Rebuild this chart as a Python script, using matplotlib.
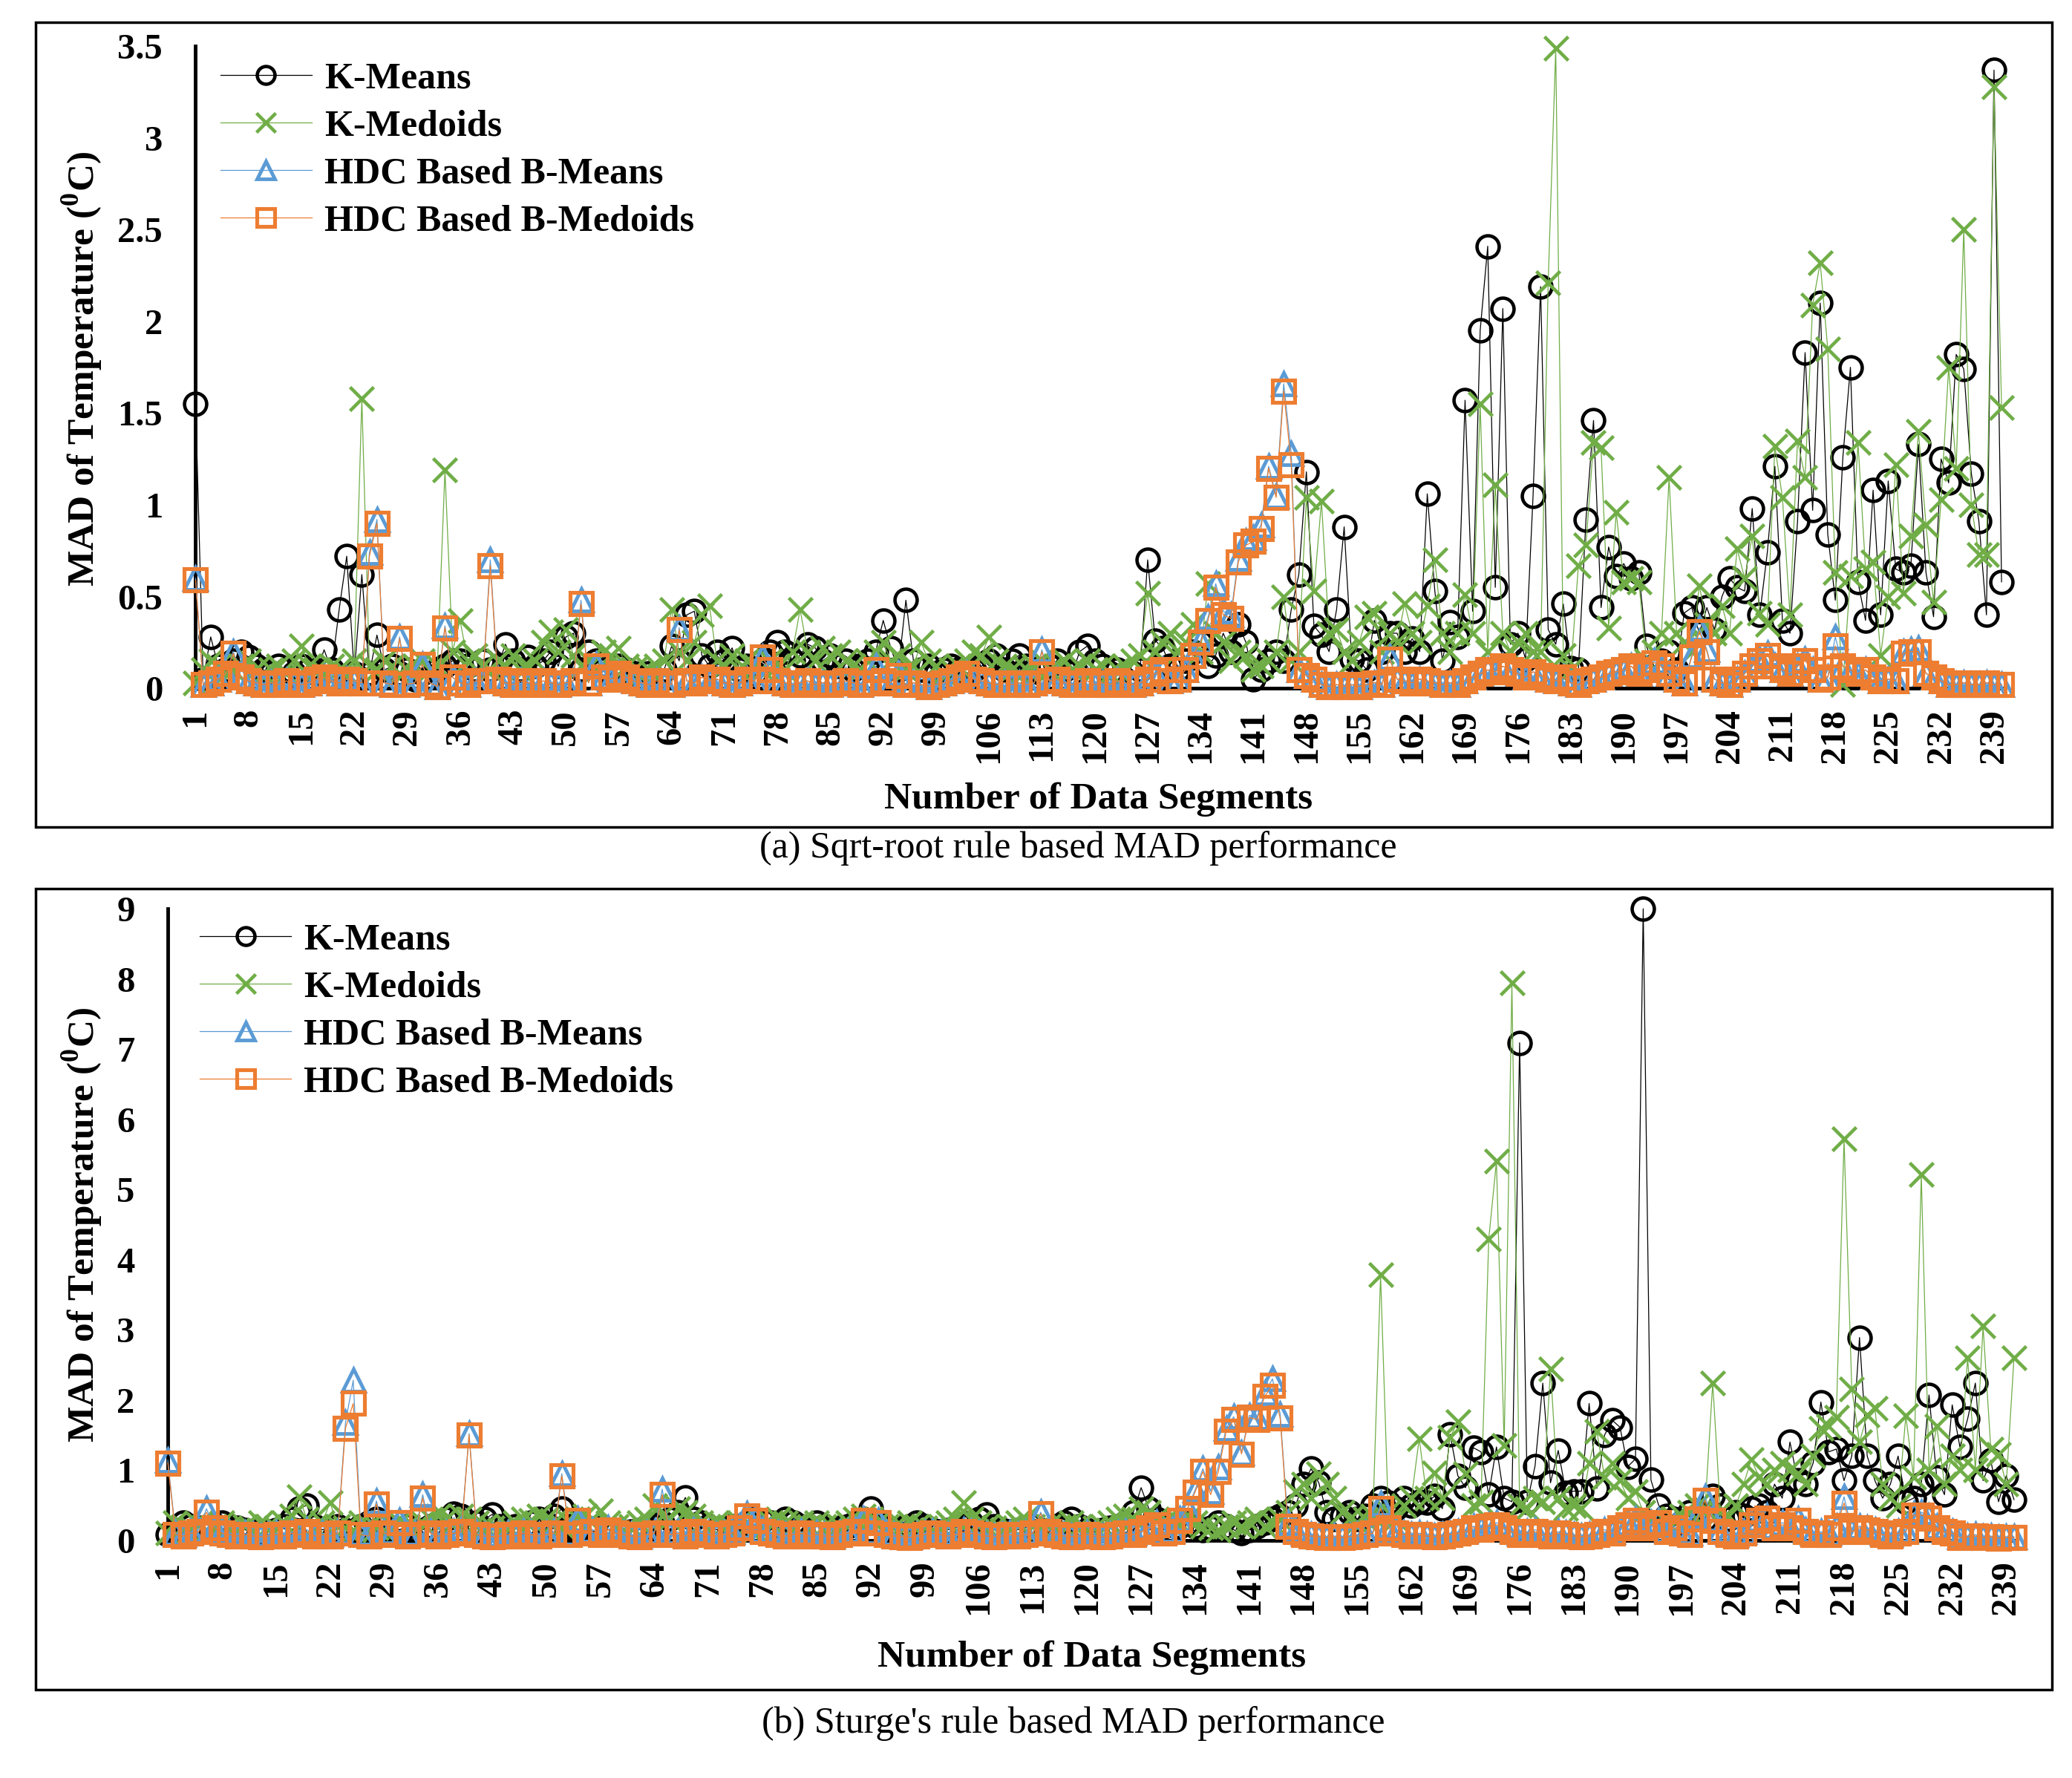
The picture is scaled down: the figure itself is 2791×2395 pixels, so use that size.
import matplotlib
matplotlib.use('Agg')
import matplotlib.pyplot as plt
from matplotlib.patches import Rectangle

plt.rcParams['font.family'] = ['Liberation Serif', 'DejaVu Serif']
plt.rcParams['mathtext.fontset'] = 'custom'
plt.rcParams['mathtext.rm'] = 'Liberation Serif'
plt.rcParams['mathtext.bf'] = 'Liberation Serif:bold'

segments = list(range(1, 241))
tick_positions = list(range(1, 240, 7))
series_names = ['K-Means', 'K-Medoids', 'HDC Based B-Means', 'HDC Based B-Medoids']

# ---------------- (a) Sqrt-root rule ----------------
kmeans_a = [
    1.55, 0.05, 0.28, 0.12, 0.10, 0.15, 0.20, 0.17, 0.12, 0.10,
    0.08, 0.12, 0.10, 0.08, 0.12, 0.10, 0.08, 0.21, 0.10, 0.43,
    0.72, 0.08, 0.62, 0.08, 0.29, 0.10, 0.12, 0.08, 0.10, 0.05,
    0.08, 0.06, 0.10, 0.12, 0.15, 0.15, 0.12, 0.10, 0.15, 0.10,
    0.12, 0.24, 0.15, 0.10, 0.17, 0.12, 0.15, 0.20, 0.12, 0.28,
    0.30, 0.10, 0.20, 0.15, 0.10, 0.08, 0.12, 0.10, 0.08, 0.05,
    0.08, 0.05, 0.10, 0.23, 0.15, 0.40, 0.42, 0.18, 0.12, 0.20,
    0.15, 0.22, 0.10, 0.12, 0.08, 0.15, 0.20, 0.25, 0.20, 0.15,
    0.18, 0.24, 0.22, 0.15, 0.18, 0.12, 0.15, 0.10, 0.12, 0.15,
    0.20, 0.37, 0.22, 0.10, 0.48, 0.15, 0.10, 0.12, 0.08, 0.10,
    0.12, 0.10, 0.08, 0.10, 0.12, 0.15, 0.18, 0.10, 0.15, 0.18,
    0.12, 0.10, 0.08, 0.12, 0.15, 0.10, 0.08, 0.20, 0.23, 0.15,
    0.12, 0.08, 0.10, 0.05, 0.08, 0.10, 0.70, 0.26, 0.22, 0.12,
    0.10, 0.15, 0.20, 0.25, 0.12, 0.18, 0.30, 0.20, 0.35, 0.25,
    0.05, 0.10, 0.15, 0.20, 0.15, 0.43, 0.62, 1.18, 0.34, 0.29,
    0.20, 0.43, 0.88, 0.16, 0.15, 0.10, 0.37, 0.20, 0.30, 0.30,
    0.20, 0.27, 0.20, 1.06, 0.53, 0.15, 0.36, 0.28, 1.57, 0.42,
    1.95, 2.41, 0.55, 2.07, 0.24, 0.30, 0.16, 1.05, 2.19, 0.32,
    0.24, 0.46, 0.11, 0.10, 0.92, 1.46, 0.44, 0.77, 0.61, 0.68,
    0.60, 0.63, 0.23, 0.12, 0.15, 0.20, 0.10, 0.41, 0.44, 0.30,
    0.44, 0.32, 0.50, 0.60, 0.55, 0.53, 0.98, 0.40, 0.74, 1.21,
    0.37, 0.30, 0.91, 1.83, 0.97, 2.10, 0.84, 0.48, 1.26, 1.75,
    0.58, 0.37, 1.08, 0.40, 1.13, 0.65, 0.63, 0.67, 1.33, 0.63,
    0.39, 1.25, 1.12, 1.82, 1.74, 1.17, 0.91, 0.40, 3.37, 0.58,
]
kmedoids_a = [
    0.03, 0.10, 0.15, 0.12, 0.08, 0.10, 0.12, 0.15, 0.10, 0.08,
    0.10, 0.12, 0.08, 0.15, 0.23, 0.12, 0.10, 0.08, 0.12, 0.10,
    0.08, 0.15, 1.58, 0.12, 0.10, 0.15, 0.12, 0.08, 0.10, 0.12,
    0.15, 0.10, 0.12, 1.19, 0.20, 0.37, 0.15, 0.18, 0.12, 0.10,
    0.15, 0.12, 0.18, 0.10, 0.12, 0.15, 0.25, 0.31, 0.20, 0.32,
    0.18, 0.12, 0.15, 0.10, 0.20, 0.18, 0.22, 0.12, 0.10, 0.08,
    0.10, 0.12, 0.15, 0.43, 0.20, 0.15, 0.25, 0.40, 0.45, 0.15,
    0.12, 0.18, 0.10, 0.15, 0.12, 0.10, 0.15, 0.12, 0.10, 0.20,
    0.43, 0.20, 0.15, 0.22, 0.18, 0.20, 0.15, 0.12, 0.10, 0.15,
    0.20, 0.25, 0.15, 0.18, 0.10, 0.12, 0.25, 0.15, 0.12, 0.08,
    0.10, 0.12, 0.15, 0.20, 0.18, 0.28, 0.15, 0.12, 0.10, 0.08,
    0.10, 0.12, 0.15, 0.10, 0.12, 0.15, 0.10, 0.12, 0.15, 0.10,
    0.12, 0.08, 0.10, 0.12, 0.15, 0.18, 0.52, 0.20, 0.25, 0.30,
    0.20, 0.25, 0.35, 0.20, 0.57, 0.30, 0.25, 0.15, 0.20, 0.18,
    0.10, 0.12, 0.15, 0.20, 0.50, 0.15, 0.20, 1.04, 0.53, 1.02,
    0.30, 0.32, 0.20, 0.15, 0.25, 0.39, 0.41, 0.20, 0.30, 0.25,
    0.46, 0.30, 0.25, 0.45, 0.70, 0.30, 0.20, 0.30, 0.51, 0.30,
    1.55, 0.20, 1.11, 0.30, 0.20, 0.25, 0.30, 0.20, 0.20, 2.21,
    3.49, 0.18, 0.10, 0.67, 0.78, 1.34, 1.31, 0.33, 0.96, 0.58,
    0.60, 0.58, 0.15, 0.20, 0.30, 1.15, 0.30, 0.25, 0.20, 0.56,
    0.35, 0.30, 0.45, 0.30, 0.76, 0.60, 0.83, 0.41, 0.35, 1.32,
    1.04, 0.40, 1.35, 1.15, 2.09, 2.32, 1.85, 0.63, 0.02, 0.61,
    1.34, 0.65, 0.69, 0.18, 0.50, 1.22, 0.52, 0.83, 1.40, 0.89,
    0.47, 1.03, 1.75, 1.20, 2.50, 1.00, 0.73, 0.73, 3.28, 1.53,
]
bmeans_a = [
    0.60, 0.02, 0.03, 0.05, 0.08, 0.20, 0.06, 0.04, 0.03, 0.02,
    0.03, 0.02, 0.04, 0.03, 0.02, 0.03, 0.05, 0.06, 0.04, 0.03,
    0.05, 0.04, 0.03, 0.74, 0.92, 0.03, 0.02, 0.28, 0.02, 0.03,
    0.13, 0.03, 0.01, 0.34, 0.06, 0.03, 0.02, 0.04, 0.04, 0.70,
    0.05, 0.03, 0.02, 0.04, 0.03, 0.02, 0.04, 0.03, 0.02, 0.03,
    0.04, 0.48, 0.03, 0.13, 0.06, 0.05, 0.08, 0.06, 0.04, 0.03,
    0.02, 0.04, 0.03, 0.02, 0.33, 0.04, 0.03, 0.06, 0.04, 0.05,
    0.03, 0.02, 0.03, 0.05, 0.04, 0.17, 0.10, 0.04, 0.03, 0.02,
    0.03, 0.04, 0.02, 0.03, 0.02, 0.03, 0.04, 0.03, 0.02, 0.03,
    0.12, 0.04, 0.03, 0.08, 0.02, 0.03, 0.02, 0.01, 0.02, 0.03,
    0.04, 0.06, 0.08, 0.05, 0.04, 0.03, 0.02, 0.03, 0.02, 0.03,
    0.02, 0.03, 0.21, 0.04, 0.05, 0.03, 0.02, 0.03, 0.04, 0.02,
    0.03, 0.02, 0.04, 0.03, 0.02, 0.03, 0.05, 0.08, 0.10, 0.04,
    0.05, 0.10, 0.18, 0.26, 0.39, 0.57, 0.42, 0.40, 0.71, 0.80,
    0.82, 0.89, 1.21, 1.05, 1.66, 1.28, 0.10, 0.07, 0.05, 0.02,
    0.01, 0.02, 0.01, 0.02, 0.01, 0.02, 0.03, 0.02, 0.17, 0.05,
    0.04, 0.03, 0.05, 0.04, 0.03, 0.02, 0.03, 0.02, 0.04, 0.06,
    0.08, 0.10, 0.09, 0.12, 0.10, 0.08, 0.06, 0.09, 0.07, 0.05,
    0.04, 0.06, 0.03, 0.02, 0.04, 0.05, 0.06, 0.08, 0.09, 0.10,
    0.12, 0.08, 0.10, 0.15, 0.12, 0.08, 0.05, 0.03, 0.18, 0.33,
    0.21, 0.05, 0.03, 0.02, 0.05, 0.08, 0.12, 0.16, 0.19, 0.12,
    0.10, 0.08, 0.12, 0.16, 0.10, 0.05, 0.06, 0.28, 0.12, 0.10,
    0.08, 0.10, 0.06, 0.04, 0.05, 0.04, 0.20, 0.21, 0.22, 0.08,
    0.06, 0.04, 0.02, 0.02, 0.03, 0.02, 0.02, 0.03, 0.02, 0.02,
]
bmedoids_a = [
    0.59, 0.02, 0.03, 0.05, 0.08, 0.19, 0.06, 0.04, 0.03, 0.02,
    0.03, 0.02, 0.04, 0.03, 0.02, 0.03, 0.05, 0.06, 0.04, 0.03,
    0.05, 0.04, 0.03, 0.72, 0.90, 0.03, 0.02, 0.27, 0.02, 0.03,
    0.13, 0.03, 0.01, 0.33, 0.06, 0.03, 0.02, 0.04, 0.04, 0.67,
    0.05, 0.03, 0.02, 0.04, 0.03, 0.02, 0.04, 0.03, 0.02, 0.03,
    0.04, 0.46, 0.03, 0.12, 0.06, 0.05, 0.08, 0.06, 0.04, 0.03,
    0.02, 0.04, 0.03, 0.02, 0.32, 0.04, 0.03, 0.06, 0.04, 0.05,
    0.03, 0.02, 0.03, 0.05, 0.04, 0.17, 0.10, 0.04, 0.03, 0.02,
    0.03, 0.04, 0.02, 0.03, 0.02, 0.03, 0.04, 0.03, 0.02, 0.03,
    0.10, 0.04, 0.03, 0.07, 0.02, 0.03, 0.02, 0.01, 0.02, 0.03,
    0.04, 0.06, 0.08, 0.05, 0.04, 0.03, 0.02, 0.03, 0.02, 0.03,
    0.02, 0.03, 0.20, 0.04, 0.05, 0.03, 0.02, 0.03, 0.04, 0.02,
    0.03, 0.02, 0.04, 0.03, 0.02, 0.03, 0.05, 0.08, 0.10, 0.04,
    0.05, 0.10, 0.18, 0.25, 0.37, 0.55, 0.40, 0.38, 0.69, 0.78,
    0.80, 0.87, 1.20, 1.04, 1.62, 1.22, 0.10, 0.07, 0.05, 0.02,
    0.01, 0.02, 0.01, 0.02, 0.01, 0.02, 0.03, 0.02, 0.16, 0.05,
    0.04, 0.03, 0.05, 0.04, 0.03, 0.02, 0.03, 0.02, 0.04, 0.06,
    0.08, 0.10, 0.09, 0.12, 0.10, 0.08, 0.06, 0.09, 0.07, 0.05,
    0.04, 0.06, 0.03, 0.02, 0.04, 0.05, 0.06, 0.08, 0.09, 0.10,
    0.12, 0.08, 0.10, 0.14, 0.12, 0.08, 0.05, 0.03, 0.17, 0.31,
    0.20, 0.05, 0.03, 0.02, 0.05, 0.08, 0.12, 0.15, 0.18, 0.12,
    0.10, 0.08, 0.12, 0.15, 0.10, 0.05, 0.06, 0.23, 0.12, 0.10,
    0.08, 0.10, 0.06, 0.04, 0.05, 0.04, 0.19, 0.20, 0.20, 0.08,
    0.06, 0.04, 0.02, 0.02, 0.03, 0.02, 0.02, 0.03, 0.02, 0.02,
]

# ---------------- (b) Sturge's rule ----------------
kmeans_b = [
    0.08, 0.15, 0.25, 0.20, 0.18, 0.15, 0.22, 0.25, 0.20, 0.18,
    0.15, 0.12, 0.10, 0.12, 0.15, 0.20, 0.30, 0.45, 0.50, 0.20,
    0.15, 0.18, 0.20, 0.15, 0.12, 0.20, 0.25, 0.30, 0.20, 0.18,
    0.15, 0.20, 0.12, 0.15, 0.20, 0.25, 0.30, 0.38, 0.35, 0.20,
    0.25, 0.30, 0.37, 0.20, 0.15, 0.20, 0.18, 0.25, 0.30, 0.20,
    0.35, 0.45, 0.20, 0.15, 0.18, 0.12, 0.20, 0.15, 0.12, 0.10,
    0.12, 0.15, 0.18, 0.20, 0.25, 0.30, 0.40, 0.61, 0.30, 0.25,
    0.20, 0.15, 0.18, 0.20, 0.15, 0.25, 0.30, 0.28, 0.25, 0.20,
    0.30, 0.25, 0.20, 0.18, 0.25, 0.20, 0.15, 0.18, 0.20, 0.25,
    0.30, 0.45, 0.25, 0.20, 0.15, 0.18, 0.20, 0.25, 0.20, 0.15,
    0.12, 0.15, 0.18, 0.20, 0.25, 0.30, 0.37, 0.20, 0.15, 0.12,
    0.15, 0.18, 0.20, 0.15, 0.12, 0.20, 0.25, 0.30, 0.20, 0.15,
    0.12, 0.15, 0.18, 0.20, 0.25, 0.40, 0.75, 0.45, 0.30, 0.20,
    0.15, 0.20, 0.25, 0.20, 0.15, 0.18, 0.25, 0.20, 0.15, 0.10,
    0.15, 0.20, 0.25, 0.30, 0.35, 0.40, 0.50, 0.80, 1.02, 0.82,
    0.40, 0.30, 0.35, 0.40, 0.30, 0.35, 0.50, 0.60, 0.54, 0.45,
    0.60, 0.50, 0.55, 0.54, 0.63, 0.45, 1.51, 0.92, 0.75, 1.32,
    1.26, 0.65, 1.33, 0.60, 0.55, 7.09, 0.55, 1.06, 2.24, 0.82,
    1.28, 0.68, 0.70, 0.70, 1.95, 0.74, 1.50, 1.71, 1.61, 1.05,
    1.16, 9.00, 0.86, 0.50, 0.35, 0.30, 0.25, 0.40, 0.35, 0.30,
    0.63, 0.50, 0.30, 0.40, 0.35, 0.45, 0.50, 0.40, 0.80, 0.60,
    1.40, 0.85, 0.80, 1.10, 1.97, 1.26, 1.30, 0.85, 1.20, 2.89,
    1.20, 0.85, 0.60, 0.80, 1.20, 0.55, 0.60, 0.80, 2.07, 0.90,
    0.65, 1.93, 1.33, 1.73, 2.24, 0.85, 1.14, 0.55, 0.92, 0.58,
]
kmedoids_b = [
    0.10, 0.25, 0.20, 0.18, 0.22, 0.15, 0.20, 0.25, 0.18, 0.15,
    0.20, 0.15, 0.25, 0.20, 0.18, 0.25, 0.35, 0.62, 0.30, 0.20,
    0.25, 0.54, 0.20, 0.18, 0.15, 0.25, 0.20, 0.18, 0.15, 0.20,
    0.25, 0.20, 0.18, 0.25, 0.30, 0.35, 0.30, 0.25, 0.35, 0.30,
    0.25, 0.20, 0.18, 0.15, 0.20, 0.25, 0.30, 0.28, 0.35, 0.30,
    0.25, 0.20, 0.25, 0.30, 0.35, 0.30, 0.42, 0.25, 0.20, 0.15,
    0.20, 0.25, 0.30, 0.50, 0.35, 0.30, 0.45, 0.40, 0.35, 0.25,
    0.20, 0.25, 0.20, 0.18, 0.25, 0.20, 0.15, 0.20, 0.25, 0.30,
    0.25, 0.20, 0.25, 0.20, 0.25, 0.20, 0.18, 0.20, 0.25, 0.30,
    0.35, 0.30, 0.25, 0.20, 0.18, 0.20, 0.25, 0.20, 0.18, 0.15,
    0.20, 0.25, 0.30, 0.54, 0.30, 0.25, 0.20, 0.18, 0.15, 0.20,
    0.25, 0.30, 0.20, 0.18, 0.20, 0.15, 0.20, 0.25, 0.20, 0.15,
    0.18, 0.20, 0.25, 0.30, 0.35, 0.30, 0.45, 0.40, 0.30, 0.25,
    0.20, 0.25, 0.30, 0.25, 0.20, 0.18, 0.15, 0.20, 0.25, 0.20,
    0.25, 0.30, 0.20, 0.25, 0.30, 0.40, 0.70, 0.80, 0.60, 0.95,
    0.80, 0.60, 0.40, 0.30, 0.25, 0.30, 0.35, 3.78, 0.40, 0.30,
    0.50, 0.60, 1.45, 0.60, 0.96, 0.60, 1.47, 1.69, 0.95, 0.50,
    0.55, 4.29, 5.40, 1.35, 7.94, 0.50, 0.45, 0.60, 0.55, 2.44,
    0.60, 0.45, 0.50, 0.45, 1.10, 1.55, 0.90, 1.10, 0.85, 0.60,
    0.70, 0.40, 0.30, 0.20, 0.25, 0.30, 0.35, 0.40, 0.50, 0.45,
    2.24, 0.40, 0.35, 0.50, 0.80, 1.15, 0.90, 0.80, 1.00, 1.10,
    1.00, 0.95, 0.80, 1.20, 1.60, 1.63, 1.75, 5.72, 2.16, 1.40,
    1.79, 1.88, 0.80, 0.60, 0.50, 1.77, 0.90, 5.21, 1.00, 1.63,
    0.80, 1.20, 1.00, 2.60, 1.00, 3.05, 1.30, 1.23, 0.80, 2.60,
]
bmeans_b = [
    1.14, 0.10, 0.08, 0.12, 0.15, 0.45, 0.20, 0.12, 0.10, 0.08,
    0.10, 0.08, 0.06, 0.08, 0.10, 0.08, 0.12, 0.10, 0.15, 0.08,
    0.10, 0.08, 0.12, 1.68, 2.28, 0.10, 0.08, 0.56, 0.12, 0.10,
    0.28, 0.08, 0.10, 0.65, 0.12, 0.08, 0.10, 0.12, 0.15, 1.52,
    0.10, 0.08, 0.06, 0.08, 0.10, 0.08, 0.12, 0.10, 0.08, 0.10,
    0.12, 0.95, 0.10, 0.30, 0.12, 0.15, 0.10, 0.18, 0.12, 0.10,
    0.08, 0.06, 0.10, 0.12, 0.73, 0.10, 0.12, 0.08, 0.15, 0.12,
    0.10, 0.08, 0.10, 0.12, 0.20, 0.38, 0.30, 0.15, 0.12, 0.10,
    0.08, 0.10, 0.12, 0.08, 0.10, 0.08, 0.06, 0.10, 0.12, 0.15,
    0.30, 0.12, 0.28, 0.10, 0.08, 0.06, 0.05, 0.08, 0.10, 0.12,
    0.10, 0.08, 0.10, 0.15, 0.12, 0.10, 0.08, 0.06, 0.08, 0.10,
    0.08, 0.10, 0.12, 0.40, 0.15, 0.10, 0.08, 0.06, 0.08, 0.10,
    0.08, 0.06, 0.08, 0.10, 0.12, 0.10, 0.15, 0.20, 0.25, 0.12,
    0.15, 0.30, 0.45, 0.72, 1.02, 0.70, 1.05, 1.60, 1.76, 1.25,
    1.78, 1.75, 2.10, 2.30, 1.80, 0.25, 0.15, 0.10, 0.08, 0.06,
    0.05, 0.06, 0.05, 0.06, 0.08, 0.10, 0.12, 0.53, 0.20, 0.12,
    0.10, 0.08, 0.10, 0.08, 0.06, 0.08, 0.10, 0.12, 0.15, 0.20,
    0.18, 0.22, 0.25, 0.20, 0.15, 0.10, 0.12, 0.15, 0.10, 0.08,
    0.12, 0.10, 0.08, 0.06, 0.08, 0.10, 0.15, 0.12, 0.20, 0.25,
    0.30, 0.20, 0.25, 0.28, 0.15, 0.20, 0.12, 0.10, 0.35, 0.62,
    0.30, 0.15, 0.10, 0.08, 0.12, 0.25, 0.30, 0.35, 0.20, 0.25,
    0.20, 0.30, 0.15, 0.10, 0.12, 0.10, 0.20, 0.62, 0.15, 0.20,
    0.18, 0.15, 0.10, 0.08, 0.12, 0.15, 0.38, 0.40, 0.35, 0.20,
    0.15, 0.12, 0.05, 0.06, 0.08, 0.05, 0.06, 0.04, 0.05, 0.05,
]
bmedoids_b = [
    1.10, 0.08, 0.06, 0.10, 0.12, 0.40, 0.18, 0.10, 0.08, 0.06,
    0.08, 0.06, 0.05, 0.06, 0.08, 0.06, 0.10, 0.08, 0.12, 0.06,
    0.08, 0.06, 0.10, 1.60, 1.95, 0.08, 0.06, 0.52, 0.10, 0.08,
    0.25, 0.06, 0.08, 0.60, 0.10, 0.06, 0.08, 0.10, 0.12, 1.50,
    0.08, 0.06, 0.05, 0.06, 0.08, 0.06, 0.10, 0.08, 0.06, 0.08,
    0.10, 0.92, 0.08, 0.28, 0.10, 0.12, 0.08, 0.15, 0.10, 0.08,
    0.06, 0.05, 0.08, 0.10, 0.65, 0.08, 0.10, 0.06, 0.12, 0.10,
    0.08, 0.06, 0.08, 0.10, 0.18, 0.35, 0.28, 0.12, 0.10, 0.08,
    0.06, 0.08, 0.10, 0.06, 0.08, 0.06, 0.05, 0.08, 0.10, 0.12,
    0.28, 0.10, 0.25, 0.08, 0.06, 0.05, 0.04, 0.06, 0.08, 0.10,
    0.08, 0.06, 0.08, 0.12, 0.10, 0.08, 0.06, 0.05, 0.06, 0.08,
    0.06, 0.08, 0.10, 0.38, 0.12, 0.08, 0.06, 0.05, 0.06, 0.08,
    0.06, 0.05, 0.06, 0.08, 0.10, 0.08, 0.12, 0.18, 0.22, 0.10,
    0.12, 0.28, 0.45, 0.69, 0.98, 0.65, 0.98, 1.55, 1.72, 1.23,
    1.75, 1.72, 2.05, 2.21, 1.74, 0.20, 0.12, 0.08, 0.06, 0.05,
    0.04, 0.05, 0.04, 0.05, 0.06, 0.08, 0.10, 0.45, 0.18, 0.10,
    0.08, 0.06, 0.08, 0.06, 0.05, 0.06, 0.08, 0.10, 0.12, 0.18,
    0.16, 0.20, 0.22, 0.18, 0.12, 0.08, 0.10, 0.12, 0.08, 0.06,
    0.10, 0.08, 0.06, 0.05, 0.06, 0.08, 0.12, 0.10, 0.18, 0.22,
    0.28, 0.18, 0.22, 0.25, 0.12, 0.18, 0.10, 0.08, 0.30, 0.57,
    0.28, 0.12, 0.08, 0.06, 0.10, 0.22, 0.28, 0.32, 0.18, 0.22,
    0.18, 0.28, 0.12, 0.08, 0.10, 0.08, 0.18, 0.53, 0.12, 0.18,
    0.15, 0.12, 0.08, 0.06, 0.10, 0.12, 0.36, 0.36, 0.32, 0.18,
    0.12, 0.10, 0.04, 0.05, 0.06, 0.04, 0.05, 0.03, 0.04, 0.04,
]

colors = ['#000000', '#70AD47', '#5B9BD5', '#ED7D31']
markers = ['o', 'x', '^', 's']

W, H = 2791, 2395
fig = plt.figure(figsize=(W / 100, H / 100), dpi=100)

TICK_FS = 35
LBL_FS = 37
LEG_FS = 36
CAP_FS = 36


def draw_panel(ax, data, ymax, ystep, leg_anchor):
    for k, (vals, c, m, name) in enumerate(zip(data, colors, markers, series_names)):
        if m == 'x':
            mkw = dict(marker='x', markersize=23, markeredgewidth=3.3, color=c)
        elif m == 's':
            mkw = dict(marker='s', markersize=21, markeredgewidth=3.7,
                       markerfacecolor='none', markeredgecolor=c, color=c)
        elif m == '^':
            mkw = dict(marker='^', markersize=21, markeredgewidth=3.5,
                       markerfacecolor='none', markeredgecolor=c, color=c)
        else:
            mkw = dict(marker='o', markersize=21.5, markeredgewidth=3.3,
                       markerfacecolor='none', markeredgecolor=c, color=c)
        ax.plot(segments, vals, linewidth=0.9, label=name, clip_on=False,
                zorder=3 + k, **mkw)
    ax.set_xlim(1, 240)
    ax.set_ylim(0, ymax)
    yt = [i * ystep for i in range(int(round(ymax / ystep)) + 1)]
    ax.set_yticks(yt)
    ax.set_yticklabels([('%g' % v) for v in yt], fontsize=TICK_FS, fontweight='bold')
    ax.set_xticks(tick_positions)
    ax.set_xticklabels([str(t) for t in tick_positions], rotation=90,
                       fontsize=TICK_FS, fontweight='bold')
    ax.tick_params(axis='y', length=0, pad=32)
    ax.tick_params(axis='x', length=0, pad=20)
    for s in ['top', 'right']:
        ax.spines[s].set_visible(False)
    ax.spines['left'].set_linewidth(3.5)
    ax.spines['bottom'].set_linewidth(3.5)
    ax.set_facecolor('none')
    leg = fig.legend(*ax.get_legend_handles_labels(), loc='upper left',
                     bbox_to_anchor=leg_anchor, bbox_transform=fig.transFigure,
                     frameon=False, prop={'family': 'Liberation Serif', 'weight': 'bold',
                                          'size': LEG_FS},
                     handlelength=2.45, handletextpad=0.34, labelspacing=0.36,
                     borderpad=0, borderaxespad=0, numpoints=1, markerscale=0.8)
    return leg


# Panel frames
fig.add_artist(Rectangle((0.0172, 0.535), 0.9732, 0.4524, transform=fig.transFigure,
                         fill=False, lw=2.5, ec='black'))
fig.add_artist(Rectangle((0.0172, 0.0498), 0.9732, 0.4502, transform=fig.transFigure,
                         fill=False, lw=2.5, ec='black'))

ax1 = fig.add_axes([0.0944, 0.6129, 0.966 - 0.0944, 0.974 - 0.6129])
draw_panel(ax1, [kmeans_a, kmedoids_a, bmeans_a, bmedoids_a], 3.5, 0.5, (0.1065, 0.965))

ax2 = fig.add_axes([0.081, 0.1337, 0.972 - 0.081, 0.4889 - 0.1337])
draw_panel(ax2, [kmeans_b, kmedoids_b, bmeans_b, bmedoids_b], 9, 1, (0.0965, 0.481))

ylab = 'MAD of Temperature ($^{\\mathbf{0}}$C)'
fig.text(0.0398, 0.7925, ylab, rotation=90, ha='center', va='center',
         fontsize=LBL_FS, fontweight='bold')
fig.text(0.0397, 0.311, ylab, rotation=90, ha='center', va='center',
         fontsize=LBL_FS, fontweight='bold')
fig.text(0.530, 0.5505, 'Number of Data Segments', ha='center', va='center',
         fontsize=LBL_FS, fontweight='bold')
fig.text(0.527, 0.0676, 'Number of Data Segments', ha='center', va='center',
         fontsize=LBL_FS, fontweight='bold')
fig.text(0.5204, 0.523, '(a) Sqrt-root rule based MAD performance', ha='center',
         va='center', fontsize=CAP_FS)
fig.text(0.518, 0.0305, "(b) Sturge's rule based MAD performance", ha='center',
         va='center', fontsize=CAP_FS)

fig.savefig('out.png', dpi=100, facecolor='white')
